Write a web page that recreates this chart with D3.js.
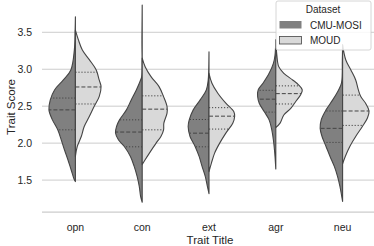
<!DOCTYPE html>
<html>
<head>
<meta charset="utf-8">
<script src="https://cdn.jsdelivr.net/npm/d3@7"></script>
<style>
  body { margin: 0; background: #fff; }
  svg text { font-family: "Liberation Sans", Arial, sans-serif; fill: #262626; }
</style>
</head>
<body>
<div id="vizContainer"></div>
<script>
// categories and series
var traits = ['opn', 'con', 'ext', 'agr', 'neu'];
var datasets = ['CMU-MOSI', 'MOUD'];
var yTicks = [1.5, 2.0, 2.5, 3.0, 3.5];

// density profiles: [trait score, relative density]
var mosiDensity = [
  [[3.71,0],[3.53,0.01],[3.26,0.04],[2.99,0.17],[2.855,0.45],[2.72,0.78],[2.585,0.94],[2.45,0.99],[2.315,0.86],[2.18,0.66],[2.045,0.53],[1.91,0.41],[1.775,0.28],[1.64,0.16],[1.505,0.04],[1.48,0]],
  [[3.87,0],[3.4,0.01],[2.9,0.02],[2.855,0.06],[2.72,0.22],[2.585,0.41],[2.45,0.59],[2.315,0.85],[2.225,0.96],[2.14,1.0],[2.045,0.89],[1.955,0.67],[1.82,0.44],[1.685,0.3],[1.55,0.19],[1.415,0.11],[1.28,0.06],[1.2,0]],
  [[3.235,0],[2.99,0.01],[2.855,0.03],[2.72,0.1],[2.585,0.33],[2.45,0.59],[2.315,0.74],[2.225,0.78],[2.09,0.71],[1.955,0.52],[1.82,0.37],[1.685,0.26],[1.55,0.14],[1.415,0.06],[1.315,0]],
  [[3.4,0],[3.19,0.03],[3.08,0.09],[2.945,0.25],[2.81,0.48],[2.72,0.66],[2.63,0.68],[2.54,0.62],[2.425,0.43],[2.315,0.25],[2.18,0.15],[2.045,0.09],[1.87,0.04],[1.65,0]],
  [[3.33,0],[3.125,0.01],[2.815,0.04],[2.72,0.15],[2.585,0.37],[2.45,0.62],[2.315,0.8],[2.2,0.84],[2.09,0.77],[1.955,0.62],[1.82,0.47],[1.685,0.31],[1.55,0.19],[1.415,0.1],[1.21,0]]
];
var moudDensity = [
  [[3.53,0],[3.4,0.11],[3.26,0.26],[3.13,0.52],[2.99,0.78],[2.855,0.89],[2.765,0.96],[2.63,0.89],[2.495,0.7],[2.36,0.52],[2.225,0.33],[2.09,0.22],[1.955,0.07],[1.82,0]],
  [[3.15,0],[3.035,0.11],[2.9,0.33],[2.765,0.63],[2.63,0.8],[2.495,0.93],[2.405,0.93],[2.27,0.81],[2.18,0.8],[2.09,0.7],[2.0,0.52],[1.865,0.27],[1.775,0.11],[1.71,0]],
  [[2.945,0],[2.81,0.11],[2.675,0.33],[2.54,0.63],[2.425,0.93],[2.36,0.96],[2.27,0.89],[2.135,0.63],[2.0,0.4],[1.865,0.21],[1.73,0.09],[1.615,0]],
  [[3.4,0],[3.19,0.04],[3.035,0.11],[2.945,0.3],[2.855,0.63],[2.79,0.85],[2.72,0.99],[2.655,0.93],[2.56,0.74],[2.47,0.56],[2.38,0.3],[2.27,0.16],[2.21,0]],
  [[3.33,0],[3.125,0.12],[2.99,0.31],[2.855,0.49],[2.72,0.59],[2.63,0.68],[2.54,0.86],[2.435,0.99],[2.34,0.93],[2.225,0.74],[2.09,0.49],[1.955,0.27],[1.82,0.1],[1.72,0]]
];

// quartiles [q1, median, q3]
var mosiQuartiles = [[2.18,2.45,2.61],[1.95,2.15,2.315],[1.95,2.135,2.32],[2.42,2.595,2.715],[2.01,2.2,2.435]];
var moudQuartiles = [[2.53,2.76,2.96],[2.18,2.46,2.64],[2.19,2.365,2.48],[2.53,2.67,2.775],[2.24,2.435,2.65]];

var colors = ['#808080', '#d9d9d9'];

var width = 374, height = 246;
var margin = {left: 42, right: -2, top: 2, bottom: 34};

var svg = d3.select('#vizContainer').append('svg')
  .attr('width', width)
  .attr('height', height)
  .attr('viewBox', '0 0 ' + width + ' ' + height);

var x = d3.scaleBand()
  .domain(traits)
  .range([margin.left, width - margin.right])
  .paddingInner(0).paddingOuter(0);

var y = d3.scaleLinear()
  .domain([1.068, 3.91])
  .range([height - margin.bottom, margin.top]);

// half width of the widest violin
var w = d3.scaleLinear().domain([0, 1]).range([0, x.bandwidth() * 0.4]);

// grid lines
svg.append('g').selectAll('line').data(yTicks).join('line')
  .attr('x1', margin.left).attr('x2', width)
  .attr('y1', function(d){ return y(d); }).attr('y2', function(d){ return y(d); })
  .attr('stroke', '#cccccc').attr('stroke-width', 1);

// bottom spine
svg.append('line')
  .attr('x1', margin.left).attr('x2', width)
  .attr('y1', y.range()[0]).attr('y2', y.range()[0])
  .attr('stroke', '#cccccc').attr('stroke-width', 1.25);

// y tick labels
svg.append('g').selectAll('text').data(yTicks).join('text')
  .attr('x', 32).attr('y', function(d){ return y(d); })
  .attr('dy', '0.35em')
  .attr('text-anchor', 'end')
  .style('font-size', '10.5px')
  .text(function(d){ return d.toFixed(1); });

// x tick labels
svg.append('g').selectAll('text').data(traits).join('text')
  .attr('x', function(d){ return x(d) + x.bandwidth() / 2; })
  .attr('y', 227).attr('dy', '0.35em')
  .attr('text-anchor', 'middle')
  .style('font-size', '10.5px')
  .text(function(d){ return d; });

svg.append('text')
  .attr('x', 210).attr('y', 240).attr('dy', '0.35em')
  .attr('text-anchor', 'middle')
  .style('font-size', '11.5px')
  .text('Trait Title');

svg.append('text')
  .attr('transform', 'translate(11,' + ((y.range()[0] + y.range()[1]) / 2) + ') rotate(-90)')
  .attr('dy', '0.35em')
  .attr('text-anchor', 'middle')
  .style('font-size', '11.5px')
  .text('Trait Score');

// linear lookup of the density at a value
function densityAt(profile, v){
  for (var i = 0; i < profile.length - 1; i++){
    var a = profile[i], b = profile[i + 1];
    if (v <= a[0] && v >= b[0]){
      var t = (a[0] - v) / (a[0] - b[0]);
      return a[1] + t * (b[1] - a[1]);
    }
  }
  return 0;
}

// draw one half violin, side = -1 left, +1 right
function drawHalf(g, cx, profile, quartiles, side, fill){
  var area = d3.area()
    .y(function(d){ return y(d[0]); })
    .x0(cx)
    .x1(function(d){ return cx + side * w(d[1]); })
    .curve(d3.curveCatmullRom);
  g.append('path')
    .datum(profile)
    .attr('d', area)
    .attr('fill', fill)
    .attr('stroke', '#444444')
    .attr('stroke-width', 1.1)
    .attr('stroke-linejoin', 'round');

  g.selectAll(null).data(quartiles).join('line')
    .attr('x1', cx)
    .attr('x2', function(d){ return cx + side * w(densityAt(profile, d)); })
    .attr('y1', function(d){ return y(d); })
    .attr('y2', function(d){ return y(d); })
    .attr('stroke', '#444444')
    .attr('stroke-width', 1)
    .attr('stroke-dasharray', function(d, i){ return i === 1 ? '4,2' : '1.2,1.8'; });
}

var violins = svg.append('g');
traits.forEach(function(t, i){
  var cx = x(t) + x.bandwidth() / 2;
  drawHalf(violins, cx, mosiDensity[i], mosiQuartiles[i], -1, colors[0]);
  drawHalf(violins, cx, moudDensity[i], moudQuartiles[i], 1, colors[1]);
});

// legend
var legend = svg.append('g');
legend.append('rect')
  .attr('x', 276).attr('y', 1).attr('width', 95).attr('height', 49)
  .attr('rx', 2).attr('fill', '#fff').attr('fill-opacity', 0.85)
  .attr('stroke', '#cccccc').attr('stroke-width', 0.8);
legend.append('text')
  .attr('x', 323).attr('y', 9.5).attr('dy', '0.35em')
  .attr('text-anchor', 'middle')
  .style('font-size', '10px')
  .text('Dataset');
datasets.forEach(function(name, i){
  legend.append('rect')
    .attr('x', 279.5).attr('y', 21 + i * 15.5)
    .attr('width', 22).attr('height', 7.5)
    .attr('fill', colors[i])
    .attr('stroke', '#444444').attr('stroke-width', i === 0 ? 0 : 0.8);
  legend.append('text')
    .attr('x', 310).attr('y', 25 + i * 15.5).attr('dy', '0.35em')
    .style('font-size', '10px')
    .text(name);
});
</script>
</body>
</html>
